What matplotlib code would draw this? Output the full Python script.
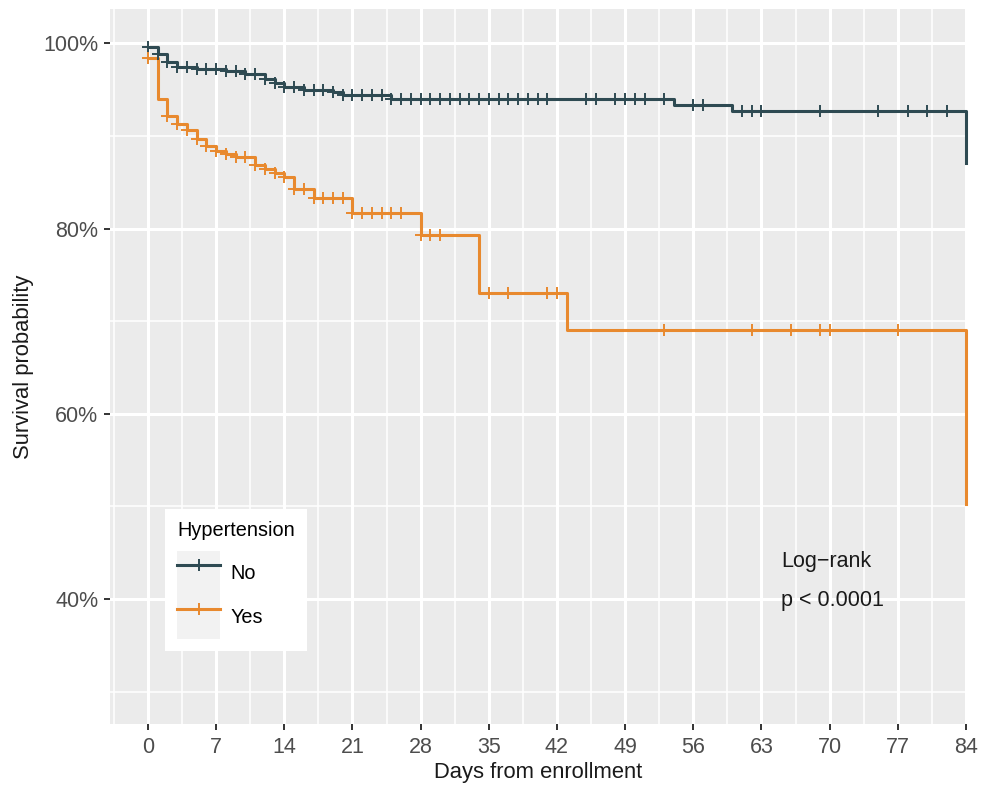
import numpy as np
import matplotlib
matplotlib.use("Agg")
import matplotlib.pyplot as plt
from matplotlib.lines import Line2D
from matplotlib.patches import Patch
from matplotlib.legend_handler import HandlerTuple

plt.rcParams['font.family'] = ['Liberation Sans', 'DejaVu Sans']

# ---- data ----
groups = ["No", "Yes"]
colors = ["#2E4A52", "#E8892E"]

no_times = [0, 1, 2, 3, 5, 8, 10, 12, 13, 14, 16, 19, 20, 25, 54, 60, 84]
no_surv = [0.996, 0.988, 0.980, 0.974, 0.972, 0.970, 0.967, 0.961, 0.957,
           0.953, 0.950, 0.947, 0.944, 0.940, 0.933, 0.927, 0.871]
no_censor = list(range(0, 42)) + [45, 46, 48, 49, 50, 51, 53, 56, 57, 61, 62,
                                  63, 69, 75, 78, 80, 82]

yes_times = [0, 1, 2, 3, 4, 5, 6, 7, 8, 9, 11, 12, 13, 14, 15, 17, 21, 28,
             34, 43, 84]
yes_surv = [0.984, 0.940, 0.921, 0.913, 0.906, 0.897, 0.889, 0.884, 0.880,
            0.877, 0.869, 0.864, 0.860, 0.856, 0.843, 0.833, 0.817, 0.793,
            0.730, 0.690, 0.503]
yes_censor = [0] + list(range(2, 27)) + [28, 29, 30, 35, 37, 41, 42, 53, 62,
                                         66, 69, 70, 77]

x_ticks = list(range(0, 85, 7))
y_ticks = [0.4, 0.6, 0.8, 1.0]
y_tick_labels = ["40%", "60%", "80%", "100%"]

series = [(no_times, no_surv, no_censor), (yes_times, yes_surv, yes_censor)]

# ---- figure ----
fig = plt.figure(figsize=(9.81, 7.87), dpi=100)
ax = fig.add_axes([110 / 981, 63 / 787, 856 / 981, 715 / 787])
ax.set_facecolor("#EBEBEB")
for s in ax.spines.values():
    s.set_visible(False)

ax.set_xlim(-3.9, 84.0)
ax.set_ylim(0.265, 1.037)

ax.set_xticks(x_ticks)
ax.set_xticks(np.arange(-3.5, 84, 7), minor=True)
ax.set_yticks(y_ticks)
ax.set_yticklabels(y_tick_labels)
ax.set_yticks([0.3, 0.5, 0.7, 0.9], minor=True)
ax.grid(which="major", color="white", lw=2.2)
ax.grid(which="minor", color="white", lw=1.1)
ax.set_axisbelow(True)
ax.tick_params(which="major", length=4.5, width=1.4, color="#333333",
               labelcolor="#4D4D4D", labelsize=15.5)
ax.tick_params(axis="y", pad=4)
ax.tick_params(axis="x", pad=5)
ax.tick_params(which="minor", length=0)

handles = []
for (t, s, c), col, name in zip(series, colors, groups):
    t = np.asarray(t, float)
    s = np.asarray(s, float)
    ax.step(t, s, where="post", color=col, lw=2.2, clip_on=False, zorder=3)
    c = np.asarray(c, float)
    idx = np.searchsorted(t, c, side="right") - 1
    ax.plot(c, s[idx], ls="none", marker="+", ms=9, mew=1.4, color=col,
            zorder=4, clip_on=False)
    handles.append((Patch(facecolor="#F2F2F2", edgecolor="none"),
                    Line2D([], [], color=col, lw=2.2, marker="+", ms=9,
                           mew=1.4)))

leg_fs = 14.3
leg = ax.legend(handles, groups, title="Hypertension",
                handler_map={tuple: HandlerTuple(ndivide=1, pad=0)},
                loc="upper left", bbox_to_anchor=(0.064, 0.301),
                borderaxespad=0, frameon=True, fancybox=False,
                fontsize=leg_fs, title_fontsize=leg_fs, handlelength=2.17,
                handleheight=3.02, labelspacing=0.0, handletextpad=0.5,
                borderpad=0.62, alignment="left")
leg.get_frame().set_facecolor("white")
leg.get_frame().set_edgecolor("none")
leg.get_frame().set_alpha(1)
leg._legend_box.sep = 8

ax.text(65.0, 0.440, "Log\u2212rank", fontsize=15.5, color="#1A1A1A",
        ha="left", va="center")
ax.text(65.0, 0.398, "p < 0.0001", fontsize=15.5, color="#1A1A1A",
        ha="left", va="center")

ax.set_xlabel("Days from enrollment", fontsize=15.8, color="#1A1A1A")
ax.set_ylabel("Survival probability", fontsize=15.8, color="#1A1A1A")
ax.xaxis.set_label_coords(0.5, -0.053)
ax.yaxis.set_label_coords(-0.089, 0.5)

fig.savefig("out.png", dpi=100, facecolor="white")
